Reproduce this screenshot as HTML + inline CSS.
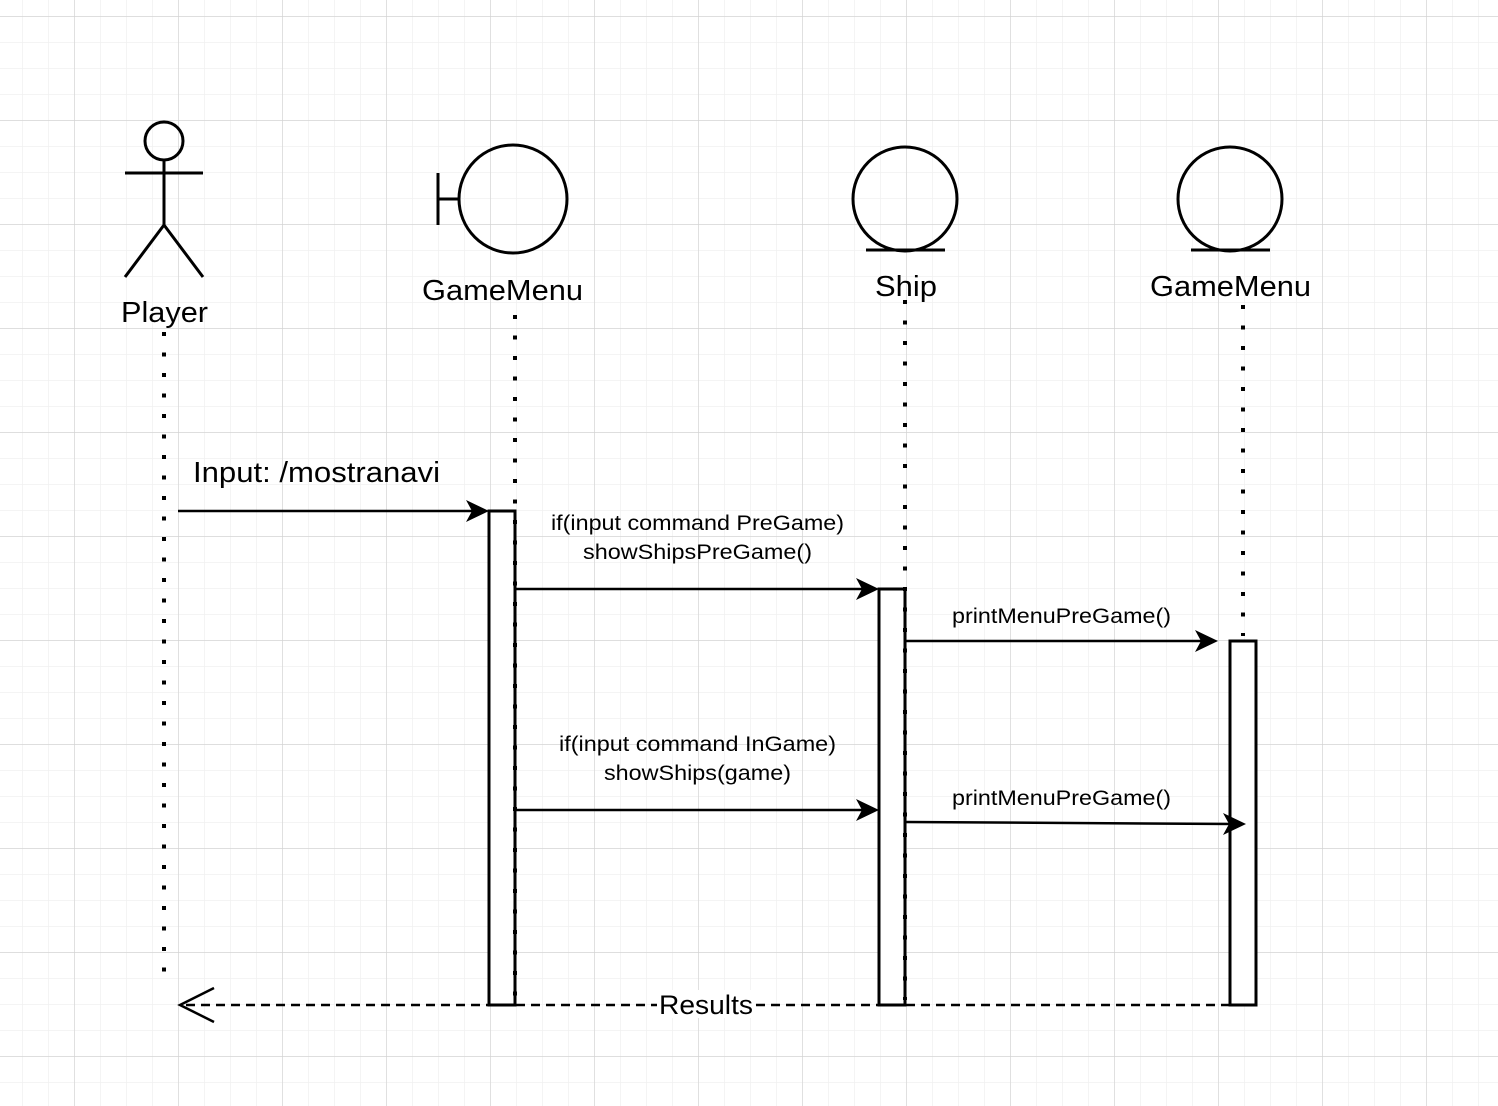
<!DOCTYPE html>
<html><head><meta charset="utf-8"><style>
html,body{margin:0;padding:0;background:#fff}
svg{display:block}
text{font-family:"Liberation Sans",Arial,sans-serif;fill:#000}
</style></head><body>
<svg width="1498" height="1106" viewBox="0 0 1498 1106" xmlns="http://www.w3.org/2000/svg">
<defs>
<pattern id="minor" x="22" y="16" width="26" height="26" patternUnits="userSpaceOnUse">
<path d="M0 0H26M0 0V26" stroke="#f0f0f0" stroke-width="1.5" fill="none"/>
</pattern>
<pattern id="major" x="74" y="16" width="104" height="104" patternUnits="userSpaceOnUse">
<path d="M0 0H104M0 0V104" stroke="#d0d0d0" stroke-width="1.2" fill="none"/>
</pattern>
</defs>
<rect width="1498" height="1106" fill="url(#minor)"/>
<rect width="1498" height="1106" fill="url(#major)"/>

<g stroke="#000" stroke-width="3" fill="none">
<circle cx="164" cy="141" r="19"/>
<line x1="125" y1="173" x2="203" y2="173"/>
<line x1="164" y1="160" x2="164" y2="225"/>
<path d="M125 277L164 225L203 277"/>
<circle cx="513" cy="199" r="54"/>
<line x1="438" y1="173" x2="438" y2="225"/>
<line x1="438" y1="199" x2="459" y2="199"/>
<circle cx="905" cy="199" r="52"/>
<line x1="866" y1="250" x2="945" y2="250"/>
<circle cx="1230" cy="199" r="52"/>
<line x1="1191" y1="250" x2="1270" y2="250"/>
</g>

<g font-size="29" lengthAdjust="spacingAndGlyphs">
<text x="121" y="322" textLength="87" lengthAdjust="spacingAndGlyphs">Player</text>
<text x="422" y="300" textLength="161" lengthAdjust="spacingAndGlyphs">GameMenu</text>
<text x="875" y="296" textLength="62" lengthAdjust="spacingAndGlyphs">Ship</text>
<text x="1150" y="296" textLength="161" lengthAdjust="spacingAndGlyphs">GameMenu</text>
</g>

<g stroke="#000" stroke-width="3" fill="#fff">
<rect x="489" y="511" width="26" height="494"/>
<rect x="879" y="589" width="26" height="416"/>
<rect x="1230" y="641" width="26" height="364"/>
</g>

<g stroke="#000" stroke-width="4" stroke-dasharray="4 16.5" fill="none">
<line x1="164" y1="332" x2="164" y2="980"/>
<line x1="515" y1="315" x2="515" y2="1005"/>
<line x1="905" y1="300" x2="905" y2="1000"/>
<line x1="1243" y1="305" x2="1243" y2="636"/>
</g>

<g stroke="#000" stroke-width="2.5" fill="none">
<line x1="178" y1="511" x2="478" y2="511"/>
<line x1="515" y1="589" x2="868" y2="589"/>
<line x1="905" y1="641" x2="1206" y2="641"/>
<line x1="515" y1="810" x2="868" y2="810"/>
<line x1="905" y1="822" x2="1234" y2="824"/>
<line x1="1230" y1="1005" x2="180" y2="1005" stroke-dasharray="9 6"/>
<path d="M214 988L180 1005L214 1022"/>
</g>
<g fill="#000">
<path d="M489 511L466 500L472 511L466 522Z"/>
<path d="M879 589L856 578L862 589L856 600Z"/>
<path d="M1218 641L1195 630L1201 641L1195 652Z"/>
<path d="M879 810L856 799L862 810L856 821Z"/>
<path d="M1246 824L1223 813L1229 824L1223 835Z"/>
</g>

<text x="193" y="482" font-size="29" textLength="247" lengthAdjust="spacingAndGlyphs">Input: /mostranavi</text>
<g font-size="21">
<text x="551" y="530" textLength="293" lengthAdjust="spacingAndGlyphs">if(input command PreGame)</text>
<text x="583" y="559" textLength="229" lengthAdjust="spacingAndGlyphs">showShipsPreGame()</text>
<text x="952" y="623" textLength="219" lengthAdjust="spacingAndGlyphs">printMenuPreGame()</text>
<text x="559" y="751" textLength="277" lengthAdjust="spacingAndGlyphs">if(input command InGame)</text>
<text x="604" y="780" textLength="187" lengthAdjust="spacingAndGlyphs">showShips(game)</text>
<text x="952" y="805" textLength="219" lengthAdjust="spacingAndGlyphs">printMenuPreGame()</text>
</g>
<rect x="657" y="990" width="98" height="28" fill="#fff"/>
<text x="659" y="1014" font-size="27" textLength="94" lengthAdjust="spacingAndGlyphs">Results</text>
</svg>
</body></html>
